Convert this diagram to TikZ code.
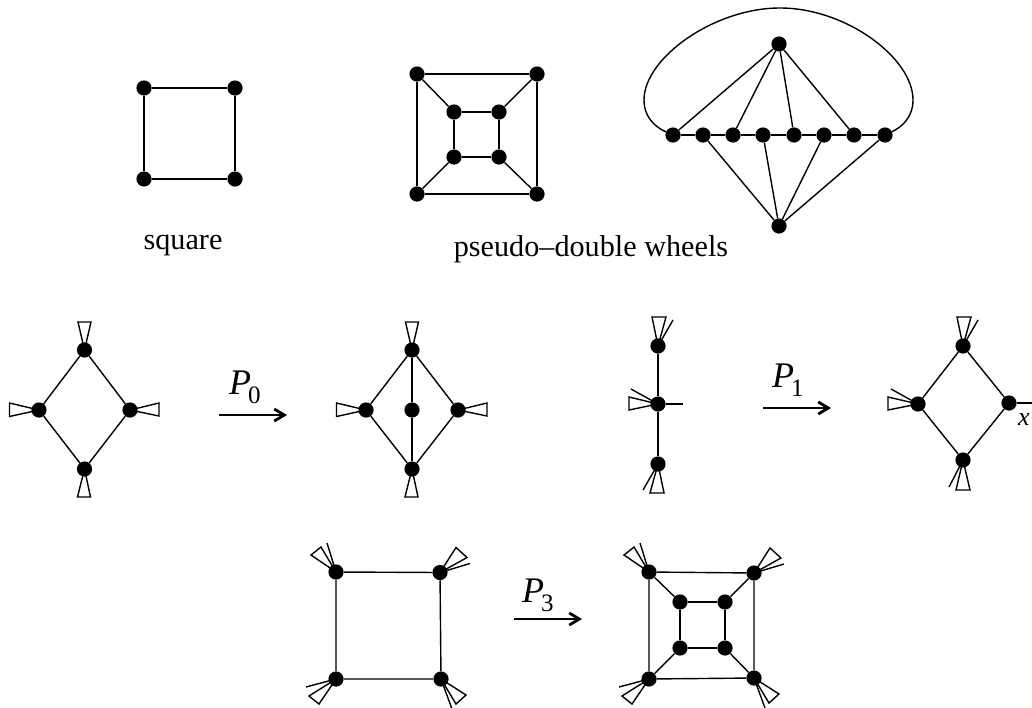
\documentclass[tikz,border=0pt]{standalone}
\usepackage{fontspec}
\setmainfont{Liberation Serif}
\usetikzlibrary{arrows.meta}
\tikzset{
  vtx/.style={circle,fill=black,draw=none,inner sep=0pt,minimum size=15.2pt},
  edge/.style={line width=1.4pt,line join=miter,black},
  maparrow/.style={draw=black,line width=2.8pt,-{Straight Barb[length=10pt,width=12pt]}},
  caption/.style={inner sep=0pt,anchor=base,font=\fontsize{30.2}{31}\selectfont},
  maplabel/.style={inner sep=0pt,anchor=base west},
}
\newcommand{\mapname}[1]{\fontsize{36}{36}\selectfont\itshape P\kern-3pt\raisebox{-9.5pt}{\fontsize{25}{25}\selectfont\upshape #1}}
\newcommand{\fan}[3]{\draw[edge] (#1.center) -- +(#2) -- +(#3) -- cycle;}
\newcommand{\whisk}[2]{\draw[edge] (#1.center) -- +(#2);}
\begin{document}
\begin{tikzpicture}[x=1pt,y=-1pt]
\useasboundingbox (0,0) rectangle (1032,707);
% square
\foreach \n/\x/\y in {sa/144/88,sb/235/88,sc/235/179,sd/144/179}
  \node[vtx] (\n) at (\x,\y) {};
\draw[edge] (sa)--(sb)--(sc)--(sd)--(sa);
\node[caption] (capsq) at (183,249) {square};
% double wheel
\foreach \n/\x/\y in {wa/417/74,wb/537/74,wc/537/194,wd/417/194,ia/454/112,ib/499/112,ic/499/157,id/454/157}
  \node[vtx] (\n) at (\x,\y) {};
\draw[edge] (wa)--(wb)--(wc)--(wd)--(wa);
\draw[edge] (ia)--(ib)--(ic)--(id)--(ia);
\draw[edge] (wa)--(ia) (wb)--(ib) (wc)--(ic) (wd)--(id);
\node[caption] (capdw) at (591,256) {pseudo–double wheels};
% wheel with row
\foreach \n/\x/\y in {top/779/44,bot/779/226,ra/673/135,rb/703/135,rc/733/135,rd/763/135,re/794/135,rf/824/135,rg/854/135,rh/885/135}
  \node[vtx] (\n) at (\x,\y) {};
\draw[edge] (ra)--(rb)--(rc)--(rd)--(re)--(rf)--(rg)--(rh);
\draw[edge] (top)--(ra) (top)--(rc) (top)--(re) (top)--(rg);
\draw[edge] (bot)--(rb) (bot)--(rd) (bot)--(rf) (bot)--(rh);
\draw[edge] (ra) .. controls (655,127) and (644,117) .. (644,100)
  .. controls (644,58) and (714,8) .. (780,8)
  .. controls (846,8) and (913,58) .. (913,100)
  .. controls (913,117) and (902,127) .. (rh);
% P0 left
\foreach \n/\x/\y in {pt/84.5/350,pr/130/410,pb/84.5/469,pl/39/410}
  \node[vtx] (\n) at (\x,\y) {};
\draw[edge] (pt)--(pr)--(pb)--(pl)--(pt);
\fan{pt}{-6.5,-28}{6.5,-28}
\fan{pb}{-7,28}{6,28}
\fan{pl}{-29.5,-7}{-29.5,6.5}
\fan{pr}{29,-7}{29,6}
% P0 arrow
\coordinate (a0s) at (219,415);
\coordinate (a0e) at (287,415);
\draw[maparrow] (a0s)--(a0e);
\node[maplabel] (l0) at (229,394) {\mapname{0}};
% P0 right
\foreach \n/\x/\y in {qt/412/350,qr/458/410,qb/412/469,ql/366/410,qc/412/410}
  \node[vtx] (\n) at (\x,\y) {};
\draw[edge] (qt)--(qr)--(qb)--(ql)--(qt);
\draw[edge] (qt)--(qc) (qc)--(qb);
\fan{qt}{-6.5,-28}{6.5,-28}
\fan{qb}{-7,28}{6,28}
\fan{ql}{-29.5,-7}{-29.5,6.5}
\fan{qr}{29,-7}{29,6}
% P1 left
\foreach \n/\x/\y in {ct/658/346,cm/658/404,cb/658/464}
  \node[vtx] (\n) at (\x,\y) {};
\draw[edge] (ct)--(cm)--(cb);
\fan{ct}{-6,-29}{8,-29}
\whisk{ct}{15,-26}
\fan{cm}{-29,-7}{-29,6}
\whisk{cm}{-27,-15}
\coordinate (cx) at (683,404);
\draw[edge] (cm)--(cx);
\fan{cb}{-8,29}{6,29}
\whisk{cb}{-15,26}
% P1 arrow
\coordinate (a1s) at (763,408);
\coordinate (a1e) at (831,408);
\draw[maparrow] (a1s)--(a1e);
\node[maplabel] (l1) at (772,387) {\mapname{1}};
% P1 right
\foreach \n/\x/\y in {dt/963/346,dr/1009/403,db/963/460,dl/918/404}
  \node[vtx] (\n) at (\x,\y) {};
\draw[edge] (dt)--(dr)--(db)--(dl)--(dt);
\fan{dt}{-6,-29}{8,-29}
\whisk{dt}{15,-26}
\fan{dl}{-30,-7}{-30,6}
\whisk{dl}{-27,-15}
\fan{db}{-7,30}{7,30}
\whisk{db}{-14,27}
\coordinate (dx) at (1032,403);
\draw[edge] (dr)--(dx);
\node[maplabel] (xl) at (1018,425) {\fontsize{26}{26}\selectfont\itshape x};
% P3 left
\foreach \n/\x/\y in {ua/336/572,ub/440/572.5,uc/441/679,ud/336/679}
  \node[vtx] (\n) at (\x,\y) {};
\draw[edge] (ua)--(ub)--(uc)--(ud)--(ua);
\fan{ua}{-25,-17}{-15,-25}
\whisk{ua}{-9,-29}
\fan{ub}{16,-25}{27,-15}
\whisk{ub}{30,-9}
\fan{ud}{-27,17}{-17,25}
\whisk{ud}{-30,8}
\fan{uc}{25,16}{15,25}
\whisk{uc}{11,30}
% P3 arrow
\coordinate (a3s) at (514,619);
\coordinate (a3e) at (582,619);
\draw[maparrow] (a3s)--(a3e);
\node[maplabel] (l3) at (522,602) {\mapname{3}};
% P3 right
\foreach \n/\x/\y in {va/649/572,vb/754/573,vc/754/678,vd/649/679,ja/680/602,jb/725/602,jc/725/648,jd/680/648}
  \node[vtx] (\n) at (\x,\y) {};
\draw[edge] (va)--(vb)--(vc)--(vd)--(va);
\draw[edge] (ja)--(jb)--(jc)--(jd)--(ja);
\draw[edge] (va)--(ja) (vb)--(jb) (vc)--(jc) (vd)--(jd);
\fan{va}{-25,-17}{-15,-25}
\whisk{va}{-9,-29}
\fan{vb}{16,-25}{27,-15}
\whisk{vb}{30,-9}
\fan{vd}{-27,17}{-17,25}
\whisk{vd}{-30,8}
\fan{vc}{25,16}{15,25}
\whisk{vc}{11,30}
\end{tikzpicture}
\end{document}
